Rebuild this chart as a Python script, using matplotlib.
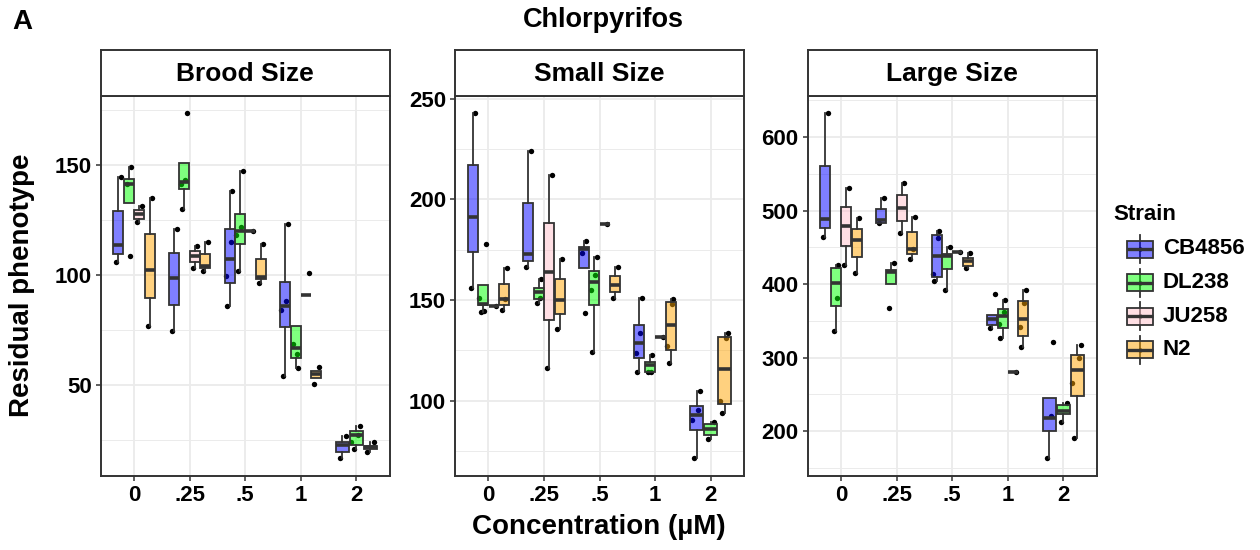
import numpy as np
import matplotlib
matplotlib.use('Agg')
import matplotlib.pyplot as plt
from matplotlib.patches import Rectangle
from matplotlib.ticker import MultipleLocator

plt.rcParams['font.family'] = ['Liberation Sans', 'DejaVu Sans']
plt.rcParams['font.weight'] = 'bold'

concentrations = ['0', '.25', '.5', '1', '2']
strains = ['CB4856', 'DL238', 'JU258', 'N2']
strain_colors = ['#0000FF', '#00FF00', '#FFC0CB', '#FFA500']

# box stats per concentration: (lower whisker, q1, median, q3, upper whisker)
brood_boxes = {
    'CB4856': [(105.9, 109.4, 113.4, 129.0, 144.4), (74.5, 86.3, 98.6, 109.8, 121.0),
               (86.0, 96.1, 107.4, 120.7, 137.9), (53.8, 76.3, 86.0, 96.7, 123.0),
               (16.5, 19.3, 22.5, 23.9, 26.7)],
    'DL238': [(132.8, 132.8, 141.1, 143.4, 149.2), (130.1, 138.8, 142.4, 150.9, 150.9),
              (101.8, 114.0, 119.9, 127.8, 147.4), (57.4, 62.1, 66.6, 76.9, 76.9),
              (20.8, 22.5, 27.3, 29.2, 31.4)],
    'JU258': [(124.0, 125.5, 127.8, 129.6, 131.1), (103.3, 105.9, 108.5, 110.9, 113.0),
              (119.9, 119.9, 119.9, 119.9, 119.9), (90.8, 90.8, 90.8, 90.8, 90.8), None],
    'N2': [(76.9, 89.3, 102.1, 118.4, 135.0), (101.8, 102.9, 104.1, 109.5, 115.0),
           (96.1, 98.0, 99.1, 107.1, 113.9), (53.3, 53.3, 54.8, 56.3, 56.3),
           (19.3, 20.6, 21.6, 22.2, 23.9)],
}
brood_points = {
    'CB4856': [[144.4, 105.9], [121.0, 74.5], [137.9, 86.0, 115.0, 99.5],
               [123.0, 53.8, 87.9, 83.8], [26.7, 16.5]],
    'DL238': [[149.2, 141.1, 108.5], [173.6, 130.1, 143.2, 141.5], [147.4, 101.8, 121.7, 118.3],
              [57.4, 68.7, 63.9], [31.4, 20.8, 27.3, 23.9]],
    'JU258': [[131.1, 124.0], [113.0, 103.3], [119.9], [100.9], []],
    'N2': [[135.0, 76.9], [115.0, 101.8], [113.9, 96.1], [58.0, 50.3], [23.9, 19.3]],
}

small_boxes = {
    'CB4856': [(156.2, 173.7, 191.2, 217.0, 243.0), (166.6, 169.6, 172.7, 198.3, 224.1),
               (166.1, 166.1, 175.4, 176.5, 179.3), (114.2, 121.2, 128.6, 137.7, 150.9),
               (71.2, 85.3, 92.7, 97.5, 104.6)],
    'DL238': [(144.0, 147.3, 147.9, 157.5, 157.5), (148.4, 150.6, 154.2, 155.9, 160.3),
              (124.1, 147.3, 158.7, 164.6, 171.6), (114.0, 114.0, 117.5, 119.0, 122.8),
              (80.7, 82.8, 86.0, 88.1, 89.4)],
    'JU258': [(146.8, 146.8, 146.8, 146.8, 146.8), (116.2, 140.2, 164.1, 188.1, 212.1),
              (187.9, 187.9, 187.9, 187.9, 187.9), (131.6, 131.6, 131.6, 131.6, 131.6), None],
    'N2': [(145.1, 147.3, 150.6, 157.9, 165.8), (135.5, 143.0, 150.1, 160.3, 170.2),
           (151.2, 153.9, 157.5, 162.0, 166.6), (118.7, 125.3, 137.7, 148.8, 150.6),
           (93.9, 98.3, 115.7, 131.7, 133.6)],
}
small_points = {
    'CB4856': [[243.0, 156.2], [224.1, 166.6], [179.3, 173.2, 143.5],
               [150.9, 114.2, 133.4, 123.8], [104.6, 71.2, 95.5, 90.2]],
    'DL238': [[177.7, 144.0, 144.6, 150.9], [160.3, 148.4, 151.2], [171.6, 124.1, 162.2, 155.0],
              [122.8, 114.0, 114.0], [89.4, 80.7]],
    'JU258': [[146.8], [212.1, 116.2], [187.9], [131.6], []],
    'N2': [[165.8, 145.1, 150.6], [170.2, 135.5], [166.6, 151.2],
           [150.6, 118.7, 148.1, 127.1], [133.6, 93.9, 131.2, 99.9]],
}

large_boxes = {
    'CB4856': [(464.7, 476.9, 488.7, 560.6, 633.0), (483.7, 483.7, 486.9, 502.3, 517.6),
               (405.0, 410.4, 438.5, 467.0, 472.9), (340.3, 344.8, 352.5, 357.5, 357.5),
               (162.9, 200.9, 218.1, 245.2, 245.2)],
    'DL238': [(335.7, 369.7, 401.4, 421.7, 426.2), (400.5, 400.5, 417.2, 419.5, 429.4),
              (392.3, 420.8, 438.5, 440.7, 451.1), (326.7, 340.3, 356.1, 366.5, 378.7),
              (212.7, 223.5, 227.1, 235.3, 238.5)],
    'JU258': [(426.2, 452.5, 479.2, 505.4, 531.2), (470.1, 486.4, 504.1, 521.3, 538.0),
              (444.3, 444.3, 444.3, 444.3, 444.3), (281.0, 281.0, 281.0, 281.0, 281.0), None],
    'N2': [(414.9, 436.7, 460.2, 475.1, 489.6), (433.9, 440.7, 448.0, 470.6, 491.0),
           (421.7, 424.9, 432.1, 435.3, 442.1), (314.0, 328.9, 352.9, 376.5, 392.3),
           (191.0, 247.5, 283.7, 304.1, 316.7)],
}
large_points = {
    'CB4856': [[633.0, 464.7], [517.6, 483.7], [472.9, 405.0, 463.3, 414.0],
               [386.9, 340.3], [321.7, 162.9, 220.4]],
    'DL238': [[426.2, 335.7, 381.4], [429.4, 367.4], [451.1, 392.3],
              [378.7, 326.7, 361.5, 346.2], [238.5, 212.7]],
    'JU258': [[531.2, 426.2], [538.0, 470.1], [444.3], [281.0], []],
    'N2': [[489.6, 414.9], [491.0, 433.9, 448.0], [442.1, 421.7],
           [392.3, 314.0, 374.7, 342.0], [316.7, 191.0, 299.6, 266.2]],
}

panels = [('Brood Size', brood_boxes, brood_points, 50, 25),
          ('Small Size', small_boxes, small_points, 50, 25),
          ('Large Size', large_boxes, large_points, 100, 50)]

# fixed horizontal jitter pattern (fraction of box width)
jitter = np.array([0.25, -0.2, 0.1, -0.35, 0.3, -0.05])

W, H = 1260, 550
fig = plt.figure(figsize=(W / 100, H / 100), dpi=100)
edge = '#333333'

panel_left = [100.7, 455, 807.7]
for (title, boxes, points, major, minor), left in zip(panels, panel_left):
    ax = fig.add_axes([left / W, 1 - 475.7 / H, 289 / W, 380 / H])
    allv = []
    for si, s in enumerate(strains):
        for ci in range(5):
            if boxes[s][ci] is not None:
                allv += list(boxes[s][ci]) + points[s][ci]
    for ci in range(5):
        present = [s for s in strains if boxes[s][ci] is not None]
        n = len(present)
        w = 0.75 / n
        for k, s in enumerate(present):
            col = strain_colors[strains.index(s)]
            pos = ci + 1 + (k - (n - 1) / 2) * w
            pts = points[s][ci]
            ax.scatter(pos + jitter[:len(pts)] * w, pts, s=15, color='black',
                       linewidths=0, zorder=2)
            lo, q1, med, q3, hi = boxes[s][ci]
            stats = [dict(whislo=lo, q1=q1, med=med, q3=q3, whishi=hi, fliers=[])]
            ax.bxp(stats, positions=[pos], widths=w * 0.97, patch_artist=True,
                   showcaps=False, showfliers=False, manage_ticks=False,
                   boxprops=dict(facecolor=matplotlib.colors.to_rgba(col, 0.5),
                                 edgecolor=edge, linewidth=1.3),
                   medianprops=dict(color=edge, linewidth=2.6, solid_capstyle='butt'),
                   whiskerprops=dict(color=edge, linewidth=1.3),
                   zorder=3)
    lo_v, hi_v = min(allv), max(allv)
    pad = (hi_v - lo_v) * 0.05
    ax.set_ylim(lo_v - pad, hi_v + pad)
    ax.set_xlim(0.4, 5.6)
    ax.set_xticks(range(1, 6))
    ax.set_xticklabels(concentrations)
    ax.yaxis.set_major_locator(MultipleLocator(major))
    ax.yaxis.set_minor_locator(MultipleLocator(minor))
    ax.grid(True, which='major', color='#EBEBEB', linewidth=1.3, zorder=0)
    ax.grid(True, which='minor', axis='y', color='#EBEBEB', linewidth=0.7, zorder=0)
    ax.set_axisbelow(True)
    ax.tick_params(axis='both', which='major', length=3.5, width=1.1, color=edge,
                   labelsize=16, labelcolor='black', pad=3)
    ax.tick_params(axis='y', which='minor', length=0)
    for sp in ax.spines.values():
        sp.set_color(edge)
        sp.set_linewidth(1.4)
    for lab in ax.get_xticklabels() + ax.get_yticklabels():
        lab.set_fontweight('bold')

    sax = fig.add_axes([left / W, 1 - 95.7 / H, 289 / W, 45.7 / H])
    sax.set_xticks([])
    sax.set_yticks([])
    for sp in sax.spines.values():
        sp.set_color(edge)
        sp.set_linewidth(1.4)
    sax.text(0.5, 0.48, title, ha='center', va='center', fontsize=19, fontweight='bold',
             transform=sax.transAxes)

fig.text(12 / W, 1 - 22 / H, 'A', fontsize=20, fontweight='bold', ha='left', va='center')
fig.text(603 / W, 1 - 20 / H, 'Chlorpyrifos', fontsize=19.5, fontweight='bold',
         ha='center', va='center')
fig.text(22.5 / W, 1 - 285.7 / H, 'Residual phenotype', fontsize=20, fontweight='bold',
         rotation=90, ha='center', va='center')
fig.text(599 / W, 1 - 527 / H, 'Concentration (µM)', fontsize=20, fontweight='bold',
         ha='center', va='center')

# legend
lax = fig.add_axes([1105 / W, 1 - 370 / H, 150 / W, 175 / H])
lax.set_xlim(1105, 1255)
lax.set_ylim(370, 195)
lax.axis('off')
lax.text(1113, 215, 'Strain', fontsize=16, fontweight='bold', ha='left', va='center')
for i, (s, col) in enumerate(zip(strains, strain_colors)):
    yc = 249 + i * 33.5
    lax.plot([1140, 1140], [yc - 14, yc + 14], color=edge, lw=1.3, zorder=1)
    lax.scatter([1140], [yc], s=10, color='black', linewidths=0, zorder=2)
    lax.add_patch(Rectangle((1127, yc - 8.5), 26, 17, facecolor=matplotlib.colors.to_rgba(col, 0.5),
                            edgecolor=edge, lw=1.3, zorder=3))
    lax.plot([1127, 1153], [yc, yc], color=edge, lw=2.4, zorder=4, solid_capstyle='butt')
    lax.text(1163, yc, s, fontsize=16, fontweight='bold', ha='left', va='center')

fig.savefig('out.png', dpi=100)
